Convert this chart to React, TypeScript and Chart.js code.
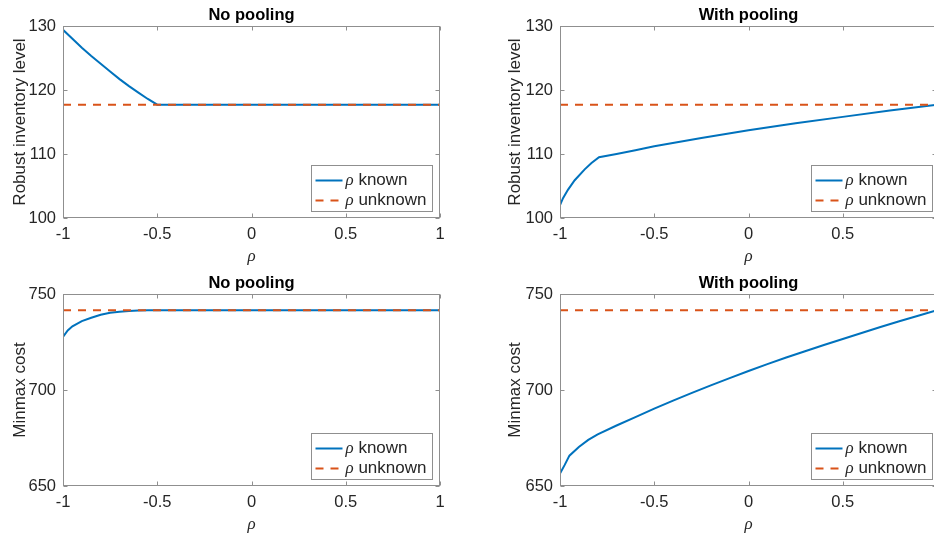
import React, { useEffect, useRef } from "react";
import { Chart, registerables } from "chart.js";

Chart.register(...registerables);

const FONT = '"Liberation Sans", Arial, Helvetica, sans-serif';
const SERIF = '"Liberation Serif", "DejaVu Serif", serif';
const BLUE = "#0072BD";
const ORANGE = "#D95319";
const AXIS_GRAY = "#8f8f8f";
const TEXT = "#262626";

// tick labels
const rhoTicks = [-1, -0.5, 0, 0.5, 1];
const inventoryTicks = [100, 110, 120, 130];
const costTicks = [650, 700, 750];

// series names
const knownName = "known";
const unknownName = "unknown";
const titles = ["No pooling", "With pooling"];
const yLabels = ["Robust inventory level", "Minmax cost"];

// No pooling – robust inventory level
const npInvRho = [-1, -0.95, -0.9, -0.85, -0.8, -0.75, -0.7, -0.65, -0.6, -0.55, -0.5, 1];
const npInvKnown = [129.4, 128.0, 126.6, 125.3, 124.1, 122.9, 121.7, 120.6, 119.6, 118.6, 117.7, 117.7];
const npInvUnknownRho = [-1, 1];
const npInvUnknown = [117.7, 117.7];

// With pooling – robust inventory level
const wpInvRho = [-1, -0.984, -0.958, -0.922, -0.869, -0.833, -0.793, -0.7, -0.6, -0.5, -0.25, 0, 0.25, 0.5, 0.75, 1];
const wpInvKnown = [102.0, 103.1, 104.4, 105.9, 107.6, 108.6, 109.5, 110.0, 110.6, 111.2, 112.5, 113.7, 114.8, 115.8, 116.8, 117.7];
const wpInvUnknownRho = [-1, 1];
const wpInvUnknown = [117.7, 117.7];

// No pooling – minmax cost
const npCostRho = [-1, -0.975, -0.95, -0.9, -0.85, -0.8, -0.75, -0.7, -0.65, -0.6, -0.55, 1];
const npCostKnown = [727.7, 731.0, 733.2, 735.9, 737.6, 739.2, 740.2, 740.8, 741.2, 741.4, 741.5, 741.5];
const npCostUnknownRho = [-1, 1];
const npCostUnknown = [741.5, 741.5];

// With pooling – minmax cost
const wpCostRho = [-1, -0.975, -0.95, -0.9, -0.85, -0.8, -0.7, -0.6, -0.5, -0.4, -0.3, -0.2, -0.1, 0, 0.1, 0.2, 0.3, 0.4, 0.5, 0.6, 0.7, 0.8, 0.9, 1];
const wpCostKnown = [656.5, 661.0, 665.8, 670.3, 674.0, 676.9, 681.5, 685.9, 690.3, 694.5, 698.5, 702.4, 706.2, 709.9, 713.5, 716.9, 720.2, 723.4, 726.6, 729.7, 732.8, 735.8, 738.7, 741.5];
const wpCostUnknownRho = [-1, 1];
const wpCostUnknown = [741.5, 741.5];

type Panel = {
  title: string;
  yLabel: string;
  yTicks: number[];
  knownRho: number[];
  knownVal: number[];
  unknownRho: number[];
  unknownVal: number[];
  right: boolean;
  left: number;
  top: number;
};

const panels: Panel[] = [
  { title: titles[0], yLabel: yLabels[0], yTicks: inventoryTicks, knownRho: npInvRho, knownVal: npInvKnown, unknownRho: npInvUnknownRho, unknownVal: npInvUnknown, right: false, left: 0, top: 0 },
  { title: titles[1], yLabel: yLabels[0], yTicks: inventoryTicks, knownRho: wpInvRho, knownVal: wpInvKnown, unknownRho: wpInvUnknownRho, unknownVal: wpInvUnknown, right: true, left: 467, top: 0 },
  { title: titles[0], yLabel: yLabels[1], yTicks: costTicks, knownRho: npCostRho, knownVal: npCostKnown, unknownRho: npCostUnknownRho, unknownVal: npCostUnknown, right: false, left: 0, top: 268 },
  { title: titles[1], yLabel: yLabels[1], yTicks: costTicks, knownRho: wpCostRho, knownVal: wpCostKnown, unknownRho: wpCostUnknownRho, unknownVal: wpCostUnknown, right: true, left: 467, top: 268 },
];

const H = 268;

const framePlugin = {
  id: "matlabFrame",
  afterDatasetsDraw(chart: any, _args: any, opts: any) {
    const { ctx, chartArea: a, scales } = chart;
    const L = Math.round(a.left) + 0.5;
    const R = Math.round(a.right) - 0.5;
    const T = Math.round(a.top) + 0.5;
    const B = Math.round(a.bottom) - 0.5;
    ctx.save();
    ctx.strokeStyle = AXIS_GRAY;
    ctx.lineWidth = 1;
    ctx.strokeRect(L, T, R - L, B - T);
    const tl = 4;
    ctx.beginPath();
    for (const t of scales.x.ticks) {
      const px = Math.round(scales.x.getPixelForValue(t.value)) + 0.5;
      ctx.moveTo(px, B);
      ctx.lineTo(px, B - tl);
      ctx.moveTo(px, T);
      ctx.lineTo(px, T + tl);
    }
    for (const t of scales.y.ticks) {
      const py = Math.round(scales.y.getPixelForValue(t.value)) + 0.5;
      ctx.moveTo(L, py);
      ctx.lineTo(L + tl, py);
      ctx.moveTo(R, py);
      ctx.lineTo(R - tl, py);
    }
    ctx.stroke();

    // title
    ctx.fillStyle = "#000";
    ctx.font = `bold 16.5px ${FONT}`;
    ctx.textAlign = "center";
    ctx.textBaseline = "middle";
    ctx.fillText(opts.title, (a.left + a.right) / 2, 15.5);

    // legend
    const bw = 121;
    const bh = 46;
    const bx = Math.round(a.right - opts.gapR - bw) + 0.5;
    const by = Math.round(a.bottom - 7 - bh) + 0.5;
    ctx.fillStyle = "#fff";
    ctx.fillRect(bx, by, bw, bh);
    ctx.strokeStyle = AXIS_GRAY;
    ctx.lineWidth = 1;
    ctx.setLineDash([]);
    ctx.strokeRect(bx, by, bw, bh);
    const rows = [chart.data.datasets[0], chart.data.datasets[1]];
    rows.forEach((ds: any, i: number) => {
      const y = by + 15 + i * 20;
      ctx.strokeStyle = ds.borderColor;
      ctx.lineWidth = ds.borderWidth;
      ctx.setLineDash(ds.borderDash || []);
      ctx.beginPath();
      ctx.moveTo(bx + 4, y);
      ctx.lineTo(bx + 31, y);
      ctx.stroke();
      ctx.setLineDash([]);
      ctx.fillStyle = TEXT;
      ctx.textAlign = "left";
      ctx.textBaseline = "middle";
      ctx.font = `italic 17px ${SERIF}`;
      ctx.fillText("\u03c1", bx + 34, y);
      const w = ctx.measureText("\u03c1").width;
      ctx.font = `17px ${FONT}`;
      ctx.fillText(" " + ds.label, bx + 34 + w, y);
    });
    ctx.restore();
  },
};

const zeroPadding = (s: any) => {
  s.paddingLeft = 0;
  s.paddingRight = 0;
  s.paddingTop = 0;
  s.paddingBottom = 0;
};

function PanelChart({ p }: { p: Panel }) {
  const ref = useRef<HTMLCanvasElement>(null);
  const width = p.right ? 470 : 467;
  useEffect(() => {
    const canvas = ref.current;
    if (!canvas) return;
    const chart = new Chart(canvas, {
      type: "line",
      data: {
        datasets: [
          {
            label: knownName,
            data: p.knownRho.map((x, i) => ({ x, y: p.knownVal[i] })),
            borderColor: BLUE,
            borderWidth: 2,
            pointRadius: 0,
            tension: 0,
            order: 1,
          },
          {
            label: unknownName,
            data: p.unknownRho.map((x, i) => ({ x, y: p.unknownVal[i] })),
            borderColor: ORANGE,
            borderWidth: 2,
            borderDash: [8, 7],
            pointRadius: 0,
            tension: 0,
            order: 0,
          },
        ],
      },
      options: {
        animation: false,
        responsive: false,
        maintainAspectRatio: false,
        devicePixelRatio: 1,
        events: [],
        layout: {
          autoPadding: false,
          padding: p.right
            ? { left: 28, right: 0, top: 26, bottom: 0 }
            : { left: 0, right: 27, top: 26, bottom: 0 },
        },
        plugins: {
          legend: { display: false },
          tooltip: { enabled: false },
          title: { display: false },
          matlabFrame: { title: p.title, gapR: p.right ? 5 : 8 },
        } as any,
        scales: {
          x: {
            type: "linear",
            min: -1,
            max: 1,
            afterBuildTicks: (s: any) => {
              s.ticks = rhoTicks.map((v) => ({ value: v }));
            },
            afterFit: (s: any) => {
              s.height = 50;
              zeroPadding(s);
            },
            grid: { display: false, drawTicks: false },
            border: { display: false },
            ticks: {
              autoSkip: false,
              maxRotation: 0,
              padding: 7,
              color: TEXT,
              font: { family: FONT, size: 16.5 },
              callback: (v: any) => (p.right && Number(v) === 1 ? "" : String(Number(v))),
            },
            title: {
              display: true,
              text: "\u03c1",
              color: TEXT,
              font: { family: SERIF, size: 17, style: "italic" },
              padding: { top: 0, bottom: 1 },
            },
          },
          y: {
            type: "linear",
            min: p.yTicks[0],
            max: p.yTicks[p.yTicks.length - 1],
            afterBuildTicks: (s: any) => {
              s.ticks = p.yTicks.map((v) => ({ value: v }));
            },
            afterFit: (s: any) => {
              s.width = p.right ? 65 : 63;
              zeroPadding(s);
            },
            grid: { display: false, drawTicks: false },
            border: { display: false },
            ticks: {
              padding: 7,
              color: TEXT,
              font: { family: FONT, size: 16.5 },
            },
            title: {
              display: true,
              text: p.yLabel,
              color: TEXT,
              font: { family: FONT, size: 17 },
              padding: { top: 10, bottom: 0 },
            },
          },
        },
      },
      plugins: [framePlugin],
    } as any);
    return () => chart.destroy();
  }, []);
  return (
    <canvas
      ref={ref}
      width={width}
      height={H}
      style={{ position: "absolute", left: p.left, top: p.top, width, height: H, display: "block" }}
    />
  );
}

export default function App() {
  return (
    <div
      style={{
        position: "absolute",
        left: 0,
        top: 0,
        width: 934,
        height: 536,
        overflow: "hidden",
        background: "#fff",
      }}
    >
      {panels.map((p, i) => (
        <PanelChart key={i} p={p} />
      ))}
    </div>
  );
}
